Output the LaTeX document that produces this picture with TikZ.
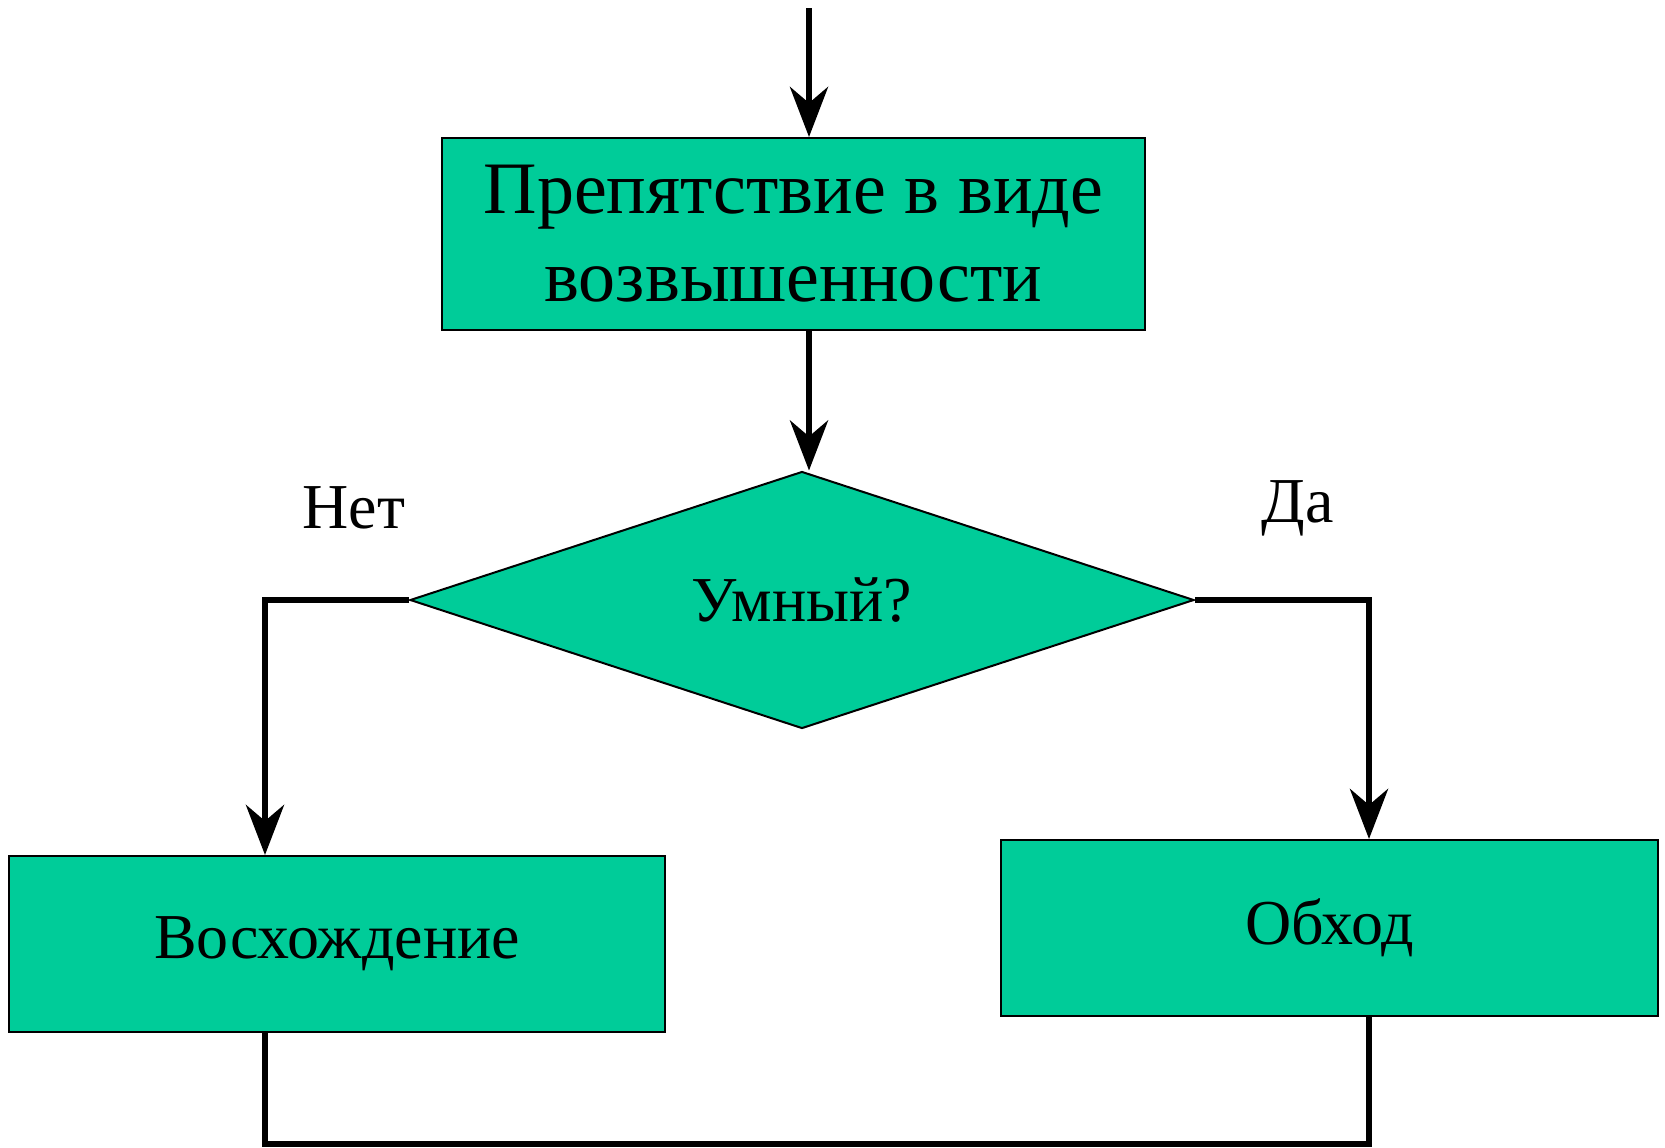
\documentclass[tikz,border=0pt]{standalone}
\usepackage{fontspec}
\setmainfont{Liberation Serif}
\usetikzlibrary{arrows.meta,shapes.geometric}
\definecolor{boxgreen}{RGB}{0,204,153}
\tikzset{%
  >={Stealth[length=25pt,width=19pt,inset=8pt]},
  % Specifications for style of nodes:
      base/.style = {draw=black, line width=1pt, fill=boxgreen,
                     align=center, inner sep=0pt,
                     font=\fontsize{32}{38}\selectfont},
     block/.style = {base, rectangle},
  decision/.style = {base, diamond, aspect=3.05},
    answer/.style = {font=\fontsize{32}{38}\selectfont},
      flow/.style = {line width=3.3pt},
}
\begin{document}
\begin{tikzpicture}[x=0.5pt, y=-0.5pt]
  \useasboundingbox (0,0) rectangle (1665,1147);
  % Specification of nodes (position, etc.)
  \node (obstacle) [block, minimum width=351.5pt, minimum height=96pt,
                    font=\fontsize{37}{44}\selectfont]
        at (793.5,234) {Препятствие в виде\\возвышенности};
  \node (smart)    [decision, minimum width=392pt, minimum height=128.5pt]
        at (802,600) {Умный?};
  \node (climb)    [block, minimum width=328pt, minimum height=88pt]
        at (337,944) {Восхождение};
  \node (detour)   [block, minimum width=328.5pt, minimum height=88pt]
        at (1329.5,928) {Обход};
  \node (no)       [answer] at (354,508) {Нет};
  \node (yes)      [answer] at (1298,508) {Да};
  \coordinate (entry) at (809,8);
  % Specification of lines between nodes specified above
  \draw[->, flow]              (entry) -- (entry |- obstacle.north);
  \draw[->, flow] (entry |- obstacle.south) -- (entry |- smart.north);
  \draw[->, flow]        (smart.west) -| ([xshift=-36pt]climb.north);
  \draw[->, flow]        (smart.east) -| ([xshift=19.75pt]detour.north);
  \draw[flow] ([xshift=-36pt]climb.south) -- ++(0,111)
                                         -| ([xshift=19.75pt]detour.south);
\end{tikzpicture}
\end{document}
